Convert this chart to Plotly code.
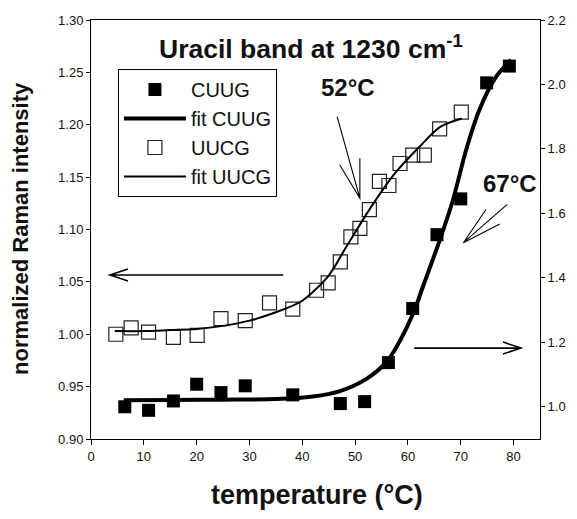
import plotly.graph_objects as go

# ---- data ----
uucg_t = [4.7, 7.6, 10.9, 15.6, 20.1, 24.6, 29.2, 33.8, 38.2, 42.7, 44.9, 47.2, 49.2, 50.9, 52.7, 54.6, 56.4, 58.5, 60.9, 63.1, 66.0, 70.1]
uucg_i = [1.000, 1.006, 1.002, 0.997, 0.999, 1.015, 1.013, 1.030, 1.024, 1.042, 1.049, 1.069, 1.093, 1.101, 1.119, 1.146, 1.142, 1.163, 1.171, 1.171, 1.196, 1.212]

cuug_t = [6.4, 10.9, 15.6, 20.0, 24.6, 29.2, 38.2, 47.2, 51.8, 56.3, 60.9, 65.5, 70.0, 74.9, 79.2]
cuug_i = [1.000, 0.989, 1.018, 1.070, 1.044, 1.065, 1.037, 1.010, 1.016, 1.137, 1.305, 1.534, 1.645, 2.005, 2.057]

fit_uucg_t = [4.5, 10, 15, 20, 25, 30, 35, 40, 45, 48.4, 52.7, 57.6, 62, 66.1, 70.2]
fit_uucg_i = [1.003, 1.003, 1.004, 1.005, 1.008, 1.013, 1.021, 1.032, 1.056, 1.084, 1.119, 1.154, 1.178, 1.198, 1.206]

fit_cuug_t = [6.2, 15, 25, 35, 42, 47, 52, 56, 58.5, 61, 63, 66, 68.5, 71, 73.5, 76.7, 79.5]
fit_cuug_i = [1.020, 1.021, 1.022, 1.024, 1.032, 1.048, 1.085, 1.14, 1.205, 1.29, 1.38, 1.516, 1.64, 1.796, 1.92, 2.024, 2.076]

x_ticks = [0, 10, 20, 30, 40, 50, 60, 70, 80]
y_left_ticks = [0.90, 0.95, 1.00, 1.05, 1.10, 1.15, 1.20, 1.25, 1.30]
y_right_ticks = [1.0, 1.2, 1.4, 1.6, 1.8, 2.0, 2.2]

FONT = "Liberation Sans, Arial, sans-serif"
INK = "#111111"

fig = go.Figure()
fig.add_trace(go.Scatter(x=cuug_t, y=cuug_i, mode="markers", name="CUUG", yaxis="y2",
                         marker=dict(symbol="square", size=13, color="black")))
fig.add_trace(go.Scatter(x=fit_cuug_t, y=fit_cuug_i, mode="lines", name="fit CUUG", yaxis="y2",
                         line=dict(color="black", width=4, shape="spline", smoothing=0.8)))
fig.add_trace(go.Scatter(x=uucg_t, y=uucg_i, mode="markers", name="UUCG",
                         marker=dict(symbol="square-open", size=14, color="#222", line=dict(width=1.2))))
fig.add_trace(go.Scatter(x=fit_uucg_t, y=fit_uucg_i, mode="lines", name="fit UUCG",
                         line=dict(color="black", width=2, shape="spline", smoothing=0.8)))


def arrow(tail, head, b1, b2, yref, w=1.3):
    path = (f"M {tail[0]},{tail[1]} L {head[0]},{head[1]} "
            f"M {b1[0]},{b1[1]} L {head[0]},{head[1]} L {b2[0]},{b2[1]}")
    return dict(type="path", path=path, xref="x", yref=yref,
                line=dict(color="black", width=w))


shapes = [
    # arrow to the left axis (UUCG)
    arrow((36.4, 1.0566), (3.6, 1.0566), (7.0, 1.0623), (7.0, 1.0509), "y", 1.6),
    # arrow to the right axis (CUUG)
    arrow((61.2, 1.182), (81.4, 1.182), (78.0, 1.2006), (78.0, 1.1634), "y2", 1.6),
    # 52 C arrow
    arrow((46.6, 1.2077), (50.9, 1.1298), (47.1, 1.1616), (50.9, 1.168), "y", 1.1),
    # 67 C arrow
    arrow((78.8, 1.628), (70.5, 1.509), (74.8, 1.613), (77.4, 1.567), "y2", 1.1),
]

annotations = [
    dict(text="<b>Uracil band at 1230 cm<sup>-1</sup></b>", xref="paper", yref="paper",
         x=0.49, y=0.935, xanchor="center", yanchor="middle", showarrow=False,
         font=dict(size=26.5, family=FONT, color=INK)),
    dict(text="<b>52°C</b>", xref="x", yref="y", x=48.7, y=1.236, xanchor="center",
         yanchor="middle", showarrow=False, font=dict(size=24, family=FONT, color=INK)),
    dict(text="<b>67°C</b>", xref="x", yref="y2", x=79.3, y=1.693, xanchor="center",
         yanchor="middle", showarrow=False, font=dict(size=24, family=FONT, color=INK)),
    dict(text="<b>normalized Raman intensity</b>", xref="paper", yref="paper",
         x=-0.156, y=0.5036, xanchor="center", yanchor="middle", textangle=-90, showarrow=False,
         font=dict(size=22, family=FONT, color=INK)),
    dict(text="<b>temperature (°C)</b>", xref="paper", yref="paper",
         x=0.503, y=-0.1337, xanchor="center", yanchor="middle", showarrow=False,
         font=dict(size=27, family=FONT, color=INK)),
]

tickfont = dict(size=13, family=FONT, color=INK)

fig.update_layout(
    width=577, height=519,
    margin=dict(l=91, r=37, t=20, b=80, pad=0),
    paper_bgcolor="white", plot_bgcolor="white",
    font=dict(family=FONT, color=INK),
    xaxis=dict(range=[0, 85], tickvals=x_ticks, ticks="outside", ticklen=5, tickwidth=1,
               tickcolor="black", showline=True, linecolor="black", linewidth=1, mirror=True,
               showgrid=False, zeroline=False, tickfont=tickfont),
    yaxis=dict(range=[0.9, 1.3], tickvals=y_left_ticks, tickformat=".2f", ticks="outside",
               ticklen=4, tickcolor="black", showline=True, linecolor="black", linewidth=1,
               showgrid=False, zeroline=False, tickfont=tickfont),
    yaxis2=dict(range=[0.9, 2.2], tickvals=y_right_ticks, tickformat=".1f", overlaying="y",
                side="right", ticks="outside", ticklen=4, tickcolor="black", showline=True,
                linecolor="black", linewidth=1, showgrid=False, zeroline=False, tickfont=tickfont),
    legend=dict(x=0.06, y=0.883, xanchor="left", yanchor="top", bgcolor="white",
                bordercolor="black", borderwidth=1, font=dict(size=20, family=FONT, color=INK),
                itemsizing="trace", itemwidth=62, tracegroupgap=0),
    showlegend=True,
    shapes=shapes,
    annotations=annotations,
)

fig.write_html("out.html")
